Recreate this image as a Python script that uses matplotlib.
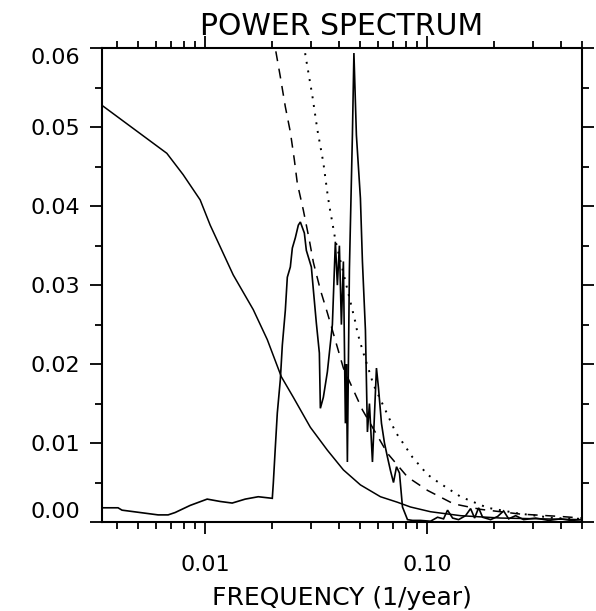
import numpy as np
import matplotlib
matplotlib.use("Agg")
import matplotlib.pyplot as plt
from matplotlib.ticker import LogLocator, NullFormatter, FixedLocator, MultipleLocator

# ---- data ----
spec_f = [0.003425, 0.004057, 0.004228, 0.005099, 0.006147, 0.006819, 0.007333, 0.008569,
          0.010224, 0.011704, 0.013252, 0.015175, 0.017366, 0.020087, 0.020297, 0.020722,
          0.021157, 0.021828, 0.022287, 0.022992, 0.023472, 0.024218, 0.024726, 0.025506,
          0.026311, 0.026869, 0.028006, 0.028592, 0.030116, 0.030750, 0.031716, 0.032726,
          0.033065, 0.034110, 0.035552, 0.037452, 0.038634, 0.039442, 0.040275, 0.041121,
          0.041980, 0.042860, 0.043306, 0.043754, 0.044683, 0.046097, 0.046823, 0.048046,
          0.050091, 0.051142, 0.052759, 0.053865, 0.055006, 0.056745, 0.059150, 0.060400,
          0.062311, 0.064280, 0.066325, 0.068421, 0.070586, 0.072826, 0.075103, 0.077477,
          0.081611, 0.085950, 0.09343, 0.10364, 0.11145, 0.11861, 0.12364, 0.13025,
          0.13861, 0.14906, 0.15700, 0.16368, 0.17060, 0.17786, 0.19324, 0.20779,
          0.22115, 0.23293, 0.25050, 0.27225, 0.30839, 0.35298, 0.39997, 0.44354, 0.497]
spec_p = [0.0018, 0.0018, 0.0015, 0.0012, 0.0009, 0.0009, 0.0012, 0.0021,
          0.0029, 0.0026, 0.0024, 0.0029, 0.0032, 0.0030, 0.0049, 0.0094,
          0.0138, 0.0180, 0.0224, 0.0268, 0.0310, 0.0323, 0.0347, 0.0360,
          0.0376, 0.0380, 0.0366, 0.0344, 0.0323, 0.0294, 0.0252, 0.0214,
          0.0144, 0.0158, 0.0190, 0.0250, 0.0355, 0.0300, 0.0350, 0.0250,
          0.0330, 0.0125, 0.0200, 0.0076, 0.0320, 0.0490, 0.0594, 0.0490,
          0.0410, 0.0330, 0.0243, 0.0114, 0.0150, 0.0076, 0.0195, 0.0170,
          0.0125, 0.0100, 0.0082, 0.0065, 0.0050, 0.0070, 0.0062, 0.0019,
          0.0003, 0.0002, 0.0002, 0.0001, 0.0006, 0.0004, 0.0015, 0.0005,
          0.0003, 0.0008, 0.0017, 0.0005, 0.0018, 0.0006, 0.0003, 0.0007,
          0.0014, 0.0004, 0.0008, 0.0003, 0.0005, 0.0002, 0.0004, 0.0002, 0.0003]

red_f = [0.003425, 0.006729, 0.007967, 0.009507, 0.010549, 0.013392, 0.016487, 0.019071,
         0.022059, 0.024978, 0.029797, 0.035552, 0.041980, 0.050091, 0.061667, 0.073562,
         0.084187, 0.10364, 0.14156, 0.21444, 0.32486, 0.497]
red_p = [0.0528, 0.0467, 0.0440, 0.0408, 0.0376, 0.0313, 0.0269, 0.0231,
         0.0184, 0.0158, 0.0120, 0.0091, 0.0066, 0.0047, 0.0032, 0.0025,
         0.0019, 0.0013, 0.0008, 0.0005, 0.0004, 0.0003]

sig1_f = [0.019071, 0.020722, 0.021828, 0.022992, 0.024218, 0.025240, 0.026037, 0.027713,
          0.029493, 0.030750, 0.033065, 0.035552, 0.041980, 0.051142, 0.066325, 0.081611,
          0.10049, 0.13159, 0.17421, 0.26393, 0.39997, 0.497]
sig1_p = [0.0690, 0.0600, 0.0564, 0.0526, 0.0494, 0.0459, 0.0429, 0.0395,
          0.0357, 0.0329, 0.0294, 0.0265, 0.0195, 0.0142, 0.0087, 0.0057,
          0.0040, 0.0023, 0.0016, 0.0010, 0.0007, 0.0005]

sig2_f = [0.026869, 0.028291, 0.030424, 0.032048, 0.034110, 0.035552, 0.036305, 0.037452,
          0.038634, 0.042860, 0.047549, 0.048552, 0.051142, 0.055574, 0.057338, 0.066325,
          0.072055, 0.077477, 0.085950, 0.10049, 0.11145, 0.14156, 0.18735, 0.25582,
          0.37196, 0.497]
sig2_p = [0.0660, 0.0592, 0.0540, 0.0497, 0.0455, 0.0417, 0.0400, 0.0379,
          0.0357, 0.0305, 0.0253, 0.0240, 0.0218, 0.0186, 0.0174, 0.0136,
          0.0114, 0.0101, 0.0082, 0.0060, 0.0051, 0.0032, 0.0018, 0.0011,
          0.0005, 0.0004]

x_ticks = [0.01, 0.1]
x_ticklabels = ["0.01", "0.10"]
y_ticks = [0.00, 0.01, 0.02, 0.03, 0.04, 0.05, 0.06]
y_ticklabels = ["0.00", "0.01", "0.02", "0.03", "0.04", "0.05", "0.06"]

# ---- figure ----
W, H = 596, 611
fig = plt.figure(figsize=(W / 100, H / 100), dpi=100)
ax = fig.add_axes([101.7 / W, 1 - 522 / H, (582.3 - 101.7) / W, (522 - 48.3) / H])

lw = 1.1
ax.plot(spec_f, spec_p, color="black", lw=1.2, solid_joinstyle="miter")
ax.plot(red_f, red_p, color="black", lw=lw)
ax.plot(sig1_f, sig1_p, color="black", lw=lw, dashes=(6.5, 5))
ax.plot(sig2_f, sig2_p, color="black", lw=1.4, dashes=(1.0, 3.5))

ax.set_xscale("log")
ax.set_xlim(0.003425, 0.5)
ax.set_ylim(0.0, 0.06)

ax.xaxis.set_major_locator(FixedLocator(x_ticks))
ax.set_xticklabels(x_ticklabels)
ax.xaxis.set_minor_locator(LogLocator(base=10, subs=np.arange(2, 10)))
ax.xaxis.set_minor_formatter(NullFormatter())
ax.yaxis.set_major_locator(FixedLocator(y_ticks))
ax.set_yticklabels(y_ticklabels)
ax.yaxis.set_minor_locator(MultipleLocator(0.005))

ax.tick_params(which="both", direction="out", top=True, right=True,
               labeltop=False, labelright=False, width=1.3, colors="black")
ax.tick_params(which="major", length=8.6)
ax.tick_params(which="minor", length=5.0)
ax.tick_params(axis="x", which="major", pad=15, labelsize=16)
ax.tick_params(axis="y", which="major", pad=7, labelsize=16)
for s in ax.spines.values():
    s.set_linewidth(1.5)

yt = ax.yaxis.get_major_ticks()
yt[0].label1.set_va("bottom")
yt[-1].label1.set_va("top")

ax.set_xlabel("FREQUENCY (1/year)", fontsize=18, labelpad=8)
ax.set_title("POWER SPECTRUM", fontsize=21.5, y=1.0, pad=9.4)

fig.savefig("out.png", dpi=100)
